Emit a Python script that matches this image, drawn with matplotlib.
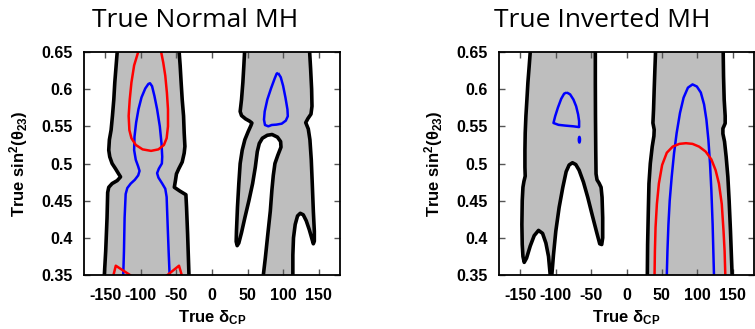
import matplotlib
matplotlib.use("Agg")
import matplotlib.pyplot as plt
from matplotlib.patches import Ellipse

# ---------------- axes ticks ----------------
DELTA_TICKS = [-150, -100, -50, 0, 50, 100, 150]
DELTA_TICK_LABELS = ["-150", "-100", "-50", "0", "50", "100", "150"]
S23_TICKS = [0.35, 0.40, 0.45, 0.50, 0.55, 0.60, 0.65]
S23_TICK_LABELS = ["0.35", "0.4", "0.45", "0.5", "0.55", "0.6", "0.65"]
DELTA_RANGE = (-180, 180)
S23_RANGE = (0.35, 0.65)

# ---------------- True Normal MH ----------------
# western allowed band (gray): left and right edges
NH_W_LEFT_X = [-133.3, -134.8, -136.7, -138.1, -140.0, -141.9, -144.3, -145.2, -143.8, -140.5,
               -135.7, -131.9, -128.6, -133.3, -140.5, -145.2, -146.7, -147.6, -149.5, -151.4]
NH_W_LEFT_Y = [0.65, 0.632, 0.609, 0.586, 0.564, 0.545, 0.532, 0.518, 0.509, 0.500,
               0.493, 0.487, 0.482, 0.477, 0.473, 0.468, 0.461, 0.427, 0.382, 0.35]
NH_W_RIGHT_X = [-46.2, -44.8, -43.4, -41.9, -40.0, -39.1, -38.1, -39.1, -41.9, -46.7,
                -50.0, -51.4, -53.0, -45.3, -36.7, -35.8, -34.3, -32.4]
NH_W_RIGHT_Y = [0.65, 0.632, 0.609, 0.586, 0.564, 0.541, 0.523, 0.514, 0.502, 0.493,
                0.486, 0.477, 0.468, 0.463, 0.458, 0.441, 0.405, 0.35]

# eastern allowed band (gray): two boundary pieces, each running edge to edge
NH_E_PIECE1_X = [45.8, 44.8, 43.4, 41.5, 39.6, 41.5, 47.2, 52.8, 56.1, 54.7, 50.9, 46.2, 42.5,
                 39.6, 37.7, 35.8, 34.4, 34.0, 35.4, 37.7, 41.5, 46.2, 51.9, 57.1, 60.9, 63.7,
                 66.5, 70.8, 77.8, 84.5, 92.0, 96.5, 97.0, 92.5, 88.5, 86.2, 84.2, 82.0, 78.5,
                 75.0, 72.2]
NH_E_PIECE1_Y = [0.65, 0.632, 0.609, 0.586, 0.570, 0.5645, 0.560, 0.557, 0.5545, 0.551, 0.543,
                 0.532, 0.518, 0.500, 0.473, 0.441, 0.409, 0.395, 0.3895, 0.393, 0.407, 0.427,
                 0.450, 0.473, 0.495, 0.516, 0.527, 0.534, 0.538, 0.539, 0.5355, 0.5295, 0.522,
                 0.511, 0.500, 0.484, 0.464, 0.436, 0.405, 0.373, 0.35]
NH_E_PIECE2_X = [113.7, 113.7, 114.6, 117.0, 120.3, 124.1, 128.3, 132.5, 136.8, 140.1, 142.5,
                 143.9, 143.9, 142.5, 141.0, 139.6, 137.7, 135.4, 131.8, 134.9, 139.2, 140.6,
                 140.1, 138.7, 137.3]
NH_E_PIECE2_Y = [0.35, 0.377, 0.400, 0.418, 0.4295, 0.433, 0.431, 0.423, 0.411, 0.400, 0.392,
                 0.3955, 0.409, 0.436, 0.473, 0.505, 0.532, 0.5465, 0.555, 0.5605, 0.5665, 0.577,
                 0.600, 0.627, 0.65]

# blue contours
NH_BLUE_W_X = [-124.8, -123.8, -122.9, -121.4, -119.1, -114.3, -108.6, -103.8, -101.9, -103.8,
               -107.2, -109.5, -109.0, -106.7, -103.4, -99.1, -93.8, -89.5, -87.2, -84.3,
               -81.0, -77.2, -73.4, -71.0, -70.0, -70.5, -74.8, -77.2, -75.3, -70.0,
               -65.7, -63.8, -62.4, -61.0, -59.6]
NH_BLUE_W_Y = [0.35, 0.382, 0.427, 0.459, 0.467, 0.473, 0.478, 0.484, 0.490, 0.496,
               0.505, 0.518, 0.536, 0.555, 0.573, 0.589, 0.601, 0.607, 0.608, 0.604,
               0.591, 0.573, 0.550, 0.527, 0.509, 0.500, 0.493, 0.487, 0.481, 0.473,
               0.466, 0.455, 0.418, 0.382, 0.35]
NH_BLUE_E_X = [92.9, 96.7, 100.0, 103.3, 106.1, 106.6, 103.8, 98.1, 90.6, 84.0, 79.2, 74.5,
               73.1, 74.1, 77.8, 83.0, 88.2, 91.0, 92.9]
NH_BLUE_E_Y = [0.6218, 0.616, 0.6045, 0.5886, 0.5727, 0.5636, 0.5577, 0.5536, 0.5523, 0.5518,
               0.5500, 0.5518, 0.559, 0.570, 0.586, 0.601, 0.6145, 0.621, 0.6218]

# red contours
NH_RED_LOOP_X = [-101.5, -103.8, -109.5, -113.3, -115.7, -117.2, -116.2, -113.3, -107.2, -97.6,
                 -85.7, -75.3, -67.6, -63.8, -61.9, -61.9, -63.4, -65.7, -68.6, -71.5, -70.5,
                 -101.5]
NH_RED_LOOP_Y = [0.665, 0.65, 0.632, 0.609, 0.586, 0.564, 0.545, 0.534, 0.525, 0.519,
                 0.517, 0.519, 0.525, 0.534, 0.550, 0.573, 0.595, 0.618, 0.636, 0.65, 0.665,
                 0.665]
NH_RED_LOW_L_X = [-139.8, -135.3, -115.3, -111.0]
NH_RED_LOW_L_Y = [0.345, 0.3625, 0.350, 0.347]
NH_RED_LOW_R_X = [-66.5, -46.4, -42.6, -42.0]
NH_RED_LOW_R_Y = [0.347, 0.3625, 0.350, 0.346]

# ---------------- True Inverted MH ----------------
IH_W_PIECE1_X = [-135.9, -137.3, -139.2, -140.6, -142.0, -143.0, -143.4, -143.4, -143.0, -144.8,
                 -146.2, -147.2, -147.7, -147.2, -146.2, -144.4, -141.1, -135.9, -130.3, -124.2,
                 -118.5, -113.8, -110.1, -107.7]
IH_W_PIECE1_Y = [0.65, 0.632, 0.609, 0.586, 0.564, 0.541, 0.518, 0.495, 0.483, 0.476,
                 0.468, 0.450, 0.418, 0.391, 0.375, 0.367, 0.3727, 0.389, 0.403, 0.410,
                 0.406, 0.393, 0.375, 0.35]
IH_W_PIECE2_X = [-105.4, -103.1, -99.8, -95.1, -89.9, -85.2, -81.0, -76.3, -71.6, -66.9,
                 -60.8, -54.7, -48.1, -42.0, -37.8, -35.0, -33.6, -33.6, -34.5, -35.9,
                 -38.7, -41.6, -43.0, -43.4, -43.8, -44.0, -44.0]
IH_W_PIECE2_Y = [0.35, 0.377, 0.409, 0.441, 0.468, 0.489, 0.498, 0.501, 0.4986, 0.491,
                 0.475, 0.4545, 0.4295, 0.407, 0.392, 0.391, 0.400, 0.427, 0.4545, 0.468,
                 0.4736, 0.478, 0.486, 0.518, 0.564, 0.609, 0.65]

IH_E_LEFT_X = [41.0, 40.1, 39.1, 38.2, 37.3, 39.1, 38.7, 36.3, 33.6, 31.7, 30.8, 29.8, 29.4]
IH_E_LEFT_Y = [0.65, 0.627, 0.600, 0.573, 0.5545, 0.5455, 0.537, 0.5227, 0.500, 0.473, 0.436,
               0.391, 0.35]
IH_E_RIGHT_X = [136.5, 137.0, 137.9, 139.3, 139.3, 136.1, 136.1, 138.4, 140.7, 143.1, 144.9,
                146.8, 148.2, 149.1]
IH_E_RIGHT_Y = [0.65, 0.617, 0.586, 0.564, 0.554, 0.547, 0.540, 0.5295, 0.509, 0.482, 0.450,
                0.409, 0.373, 0.35]

IH_BLUE_W_X = [-84.3, -79.6, -74.9, -71.1, -68.3, -66.9, -66.9, -74.9, -86.6, -96.0, -103.1,
               -100.7, -96.9, -92.2, -88.0, -84.3]
IH_BLUE_W_Y = [0.5955, 0.593, 0.586, 0.577, 0.566, 0.557, 0.549, 0.550, 0.551, 0.552, 0.5545,
               0.5636, 0.575, 0.587, 0.594, 0.5955]
IH_BLUE_DOT = (-66.5, 0.532)
IH_BLUE_E_X = [56.9, 57.8, 59.2, 61.0, 63.8, 67.1, 70.8, 75.5, 80.6, 86.7, 93.2, 99.3, 104.9,
               109.5, 112.8, 115.6, 117.9, 119.8, 121.6, 122.6, 123.5]
IH_BLUE_E_Y = [0.35, 0.382, 0.418, 0.450, 0.482, 0.5136, 0.541, 0.568, 0.5886, 0.602, 0.6064,
               0.6036, 0.5955, 0.5795, 0.559, 0.532, 0.500, 0.464, 0.418, 0.382, 0.35]

IH_RED_E_X = [39.6, 40.1, 41.0, 42.9, 45.7, 50.3, 56.9, 65.2, 74.6, 83.9, 93.2, 102.5, 111.8,
              119.8, 125.8, 130.5, 134.5, 137.0, 138.5, 139.5]
IH_RED_E_Y = [0.35, 0.382, 0.414, 0.4455, 0.473, 0.498, 0.5145, 0.5227, 0.5264, 0.5273, 0.5264,
              0.5227, 0.516, 0.5055, 0.491, 0.473, 0.4455, 0.409, 0.382, 0.35]

# ---------------- styling ----------------
GRAY = "#bebebe"
BLACK_LW = 2.6
CURVE_LW = 1.8

plt.rcParams["font.family"] = ["Liberation Sans", "DejaVu Sans"]
plt.rcParams["mathtext.fontset"] = "custom"
plt.rcParams["mathtext.rm"] = "Liberation Sans:bold"
plt.rcParams["mathtext.bf"] = "Liberation Sans:bold"
plt.rcParams["mathtext.it"] = "Liberation Sans:bold"
plt.rcParams["axes.unicode_minus"] = False

W, H = 755, 329
fig = plt.figure(figsize=(W / 100, H / 100), dpi=100)


def px_axes(x0, x1, ytop, ybot):
    return fig.add_axes([x0 / W, 1 - ybot / H, (x1 - x0) / W, (ybot - ytop) / H])


def line(ax, xs, ys, color, lw):
    ax.plot(xs, ys, color=color, lw=lw, solid_joinstyle="round",
            solid_capstyle="butt", zorder=2)


def band(ax, pieces):
    xs, ys = [], []
    for px, py in pieces:
        xs += list(px)
        ys += list(py)
    ax.fill(xs, ys, color=GRAY, lw=0, zorder=1)


def style(ax):
    ax.set_xlim(*DELTA_RANGE)
    ax.set_ylim(*S23_RANGE)
    ax.set_xticks(DELTA_TICKS)
    ax.set_xticklabels(DELTA_TICK_LABELS)
    ax.set_yticks(S23_TICKS)
    ax.set_yticklabels(S23_TICK_LABELS)
    ax.tick_params(direction="in", length=4.5, width=1.0, color="#555555",
                   top=True, right=True, labelsize=11.5)
    ax.tick_params(axis="x", pad=9)
    ax.tick_params(axis="y", pad=8)
    for lab in ax.get_xticklabels() + ax.get_yticklabels():
        lab.set_fontweight("bold")
    for sp in ax.spines.values():
        sp.set_linewidth(1.3)
        sp.set_zorder(3)
    ax.set_xlabel(r"True δ$_{\mathbf{CP}}$", fontsize=12, fontweight="bold", labelpad=4)
    ax.set_ylabel(r"True sin$^{\mathbf{2}}$(θ$_{\mathbf{23}}$)", fontsize=12,
                  fontweight="bold", labelpad=8)


# ---- Normal hierarchy panel ----
ax1 = px_axes(84, 340, 52, 275)
band(ax1, [(NH_W_LEFT_X, NH_W_LEFT_Y), (NH_W_RIGHT_X[::-1], NH_W_RIGHT_Y[::-1])])
band(ax1, [(NH_E_PIECE1_X, NH_E_PIECE1_Y), (NH_E_PIECE2_X, NH_E_PIECE2_Y)])
for xs, ys in [(NH_W_LEFT_X, NH_W_LEFT_Y), (NH_W_RIGHT_X, NH_W_RIGHT_Y),
               (NH_E_PIECE1_X, NH_E_PIECE1_Y), (NH_E_PIECE2_X, NH_E_PIECE2_Y)]:
    line(ax1, xs, ys, "black", BLACK_LW)
line(ax1, NH_BLUE_W_X, NH_BLUE_W_Y, "#0000ff", CURVE_LW)
line(ax1, NH_BLUE_E_X, NH_BLUE_E_Y, "#0000ff", CURVE_LW)
line(ax1, NH_RED_LOOP_X, NH_RED_LOOP_Y, "#ff0000", CURVE_LW)
line(ax1, NH_RED_LOW_L_X, NH_RED_LOW_L_Y, "#ff0000", CURVE_LW)
line(ax1, NH_RED_LOW_R_X, NH_RED_LOW_R_Y, "#ff0000", CURVE_LW)
style(ax1)

# ---- Inverted hierarchy panel ----
ax2 = px_axes(499, 754, 52, 275)
band(ax2, [(IH_W_PIECE1_X, IH_W_PIECE1_Y), (IH_W_PIECE2_X, IH_W_PIECE2_Y)])
band(ax2, [(IH_E_LEFT_X, IH_E_LEFT_Y), (IH_E_RIGHT_X[::-1], IH_E_RIGHT_Y[::-1])])
for xs, ys in [(IH_W_PIECE1_X, IH_W_PIECE1_Y), (IH_W_PIECE2_X, IH_W_PIECE2_Y),
               (IH_E_LEFT_X, IH_E_LEFT_Y), (IH_E_RIGHT_X, IH_E_RIGHT_Y)]:
    line(ax2, xs, ys, "black", BLACK_LW)
line(ax2, IH_BLUE_W_X, IH_BLUE_W_Y, "#0000ff", CURVE_LW)
ax2.add_patch(Ellipse(IH_BLUE_DOT, width=3.2, height=0.009, color="#0000ff", zorder=2))
line(ax2, IH_BLUE_E_X, IH_BLUE_E_Y, "#0000ff", CURVE_LW)
line(ax2, IH_RED_E_X, IH_RED_E_Y, "#ff0000", CURVE_LW)
style(ax2)

# ---- panel titles ----
fig.text(195.5 / W, 1 - 27 / H, "True Normal MH", ha="center", va="baseline",
         fontsize=19, family="Open Sans")
fig.text(602.5 / W, 1 - 27 / H, "True Inverted MH", ha="center", va="baseline",
         fontsize=19, family="Open Sans")

fig.savefig("out.png", dpi=100)
